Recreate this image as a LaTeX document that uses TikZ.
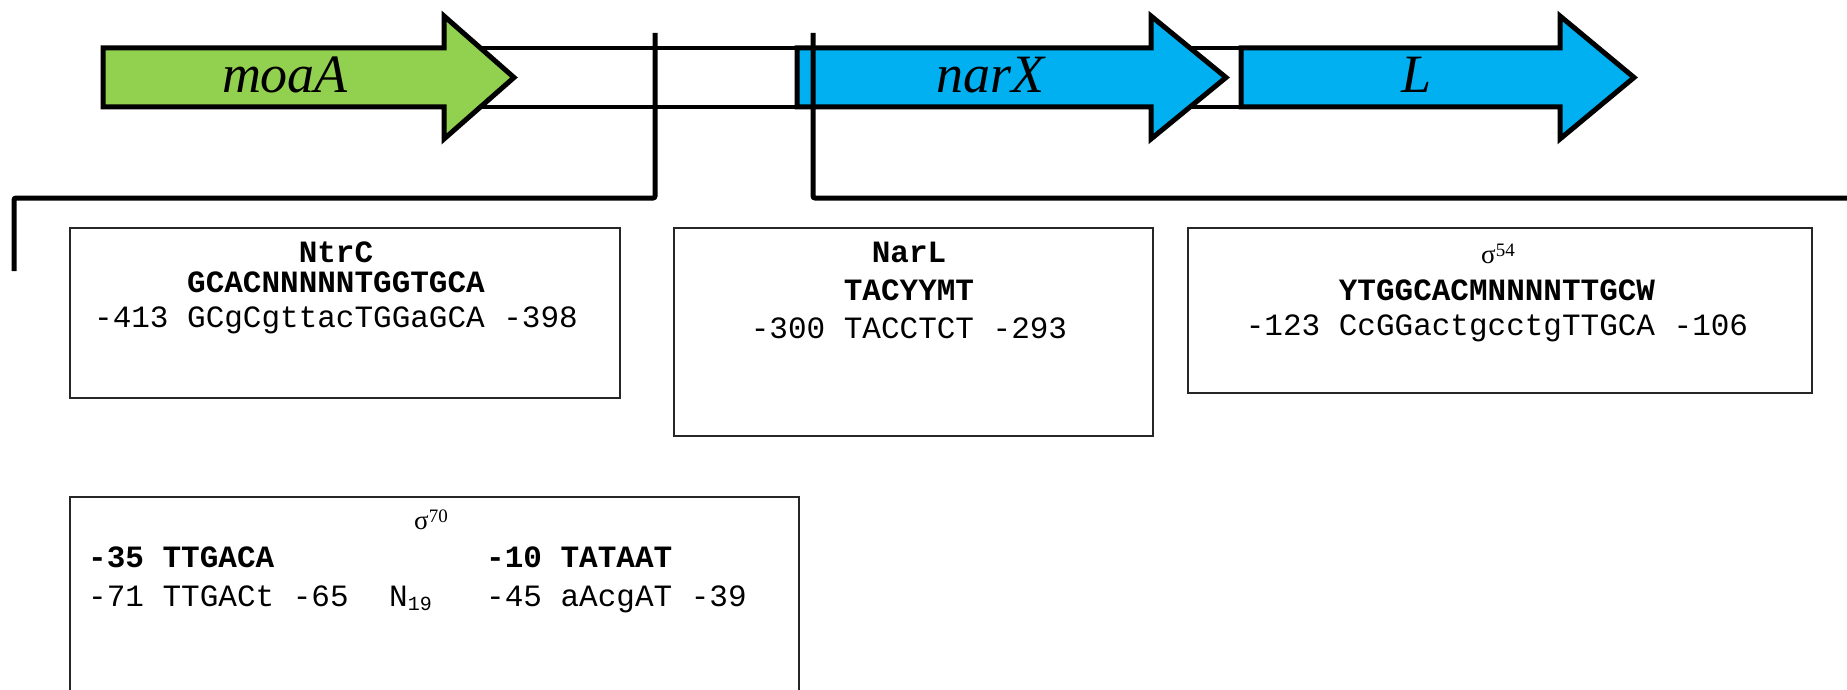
\documentclass[tikz,border=0pt]{standalone}
\usepackage{fontspec}
\setmainfont{Liberation Serif}
\setmonofont{Liberation Mono}
\definecolor{moagreen}{RGB}{146,208,80}
\definecolor{narblue}{RGB}{0,176,240}
\begin{document}
\begin{tikzpicture}[x=1pt,y=-1pt,
  gene/.style={draw=black, line width=5pt, line join=miter, miter limit=10},
  conn/.style={draw=black, line width=5pt, rounded corners=2pt},
  box/.style={draw=black!85, line width=2pt, anchor=north west, inner sep=0pt},
  mono/.style={font=\fontsize{31}{31}\selectfont\ttfamily, inner sep=0pt},
  monob/.style={font=\fontsize{31}{31}\selectfont\ttfamily\bfseries, inner sep=0pt},
  glabel/.style={font=\fontsize{54}{54}\selectfont\itshape, inner sep=0pt, anchor=base},
  sig/.style={font=\fontsize{27}{27}\selectfont, inner sep=0pt, anchor=base},
]
\clip (0,0) rectangle (1847,690);
\fill[white] (0,0) rectangle (1847,690);

% DNA backbone
\filldraw[draw=black, line width=4pt, fill=white] (460,48) rectangle (1245,107);

% genes
\filldraw[gene, fill=moagreen] (103,48) -- (444,48) -- (444,16) -- (514,77.5) -- (444,139) -- (444,107) -- (103,107) -- cycle;
\node[glabel] (moaA) at (285,93) {moaA};
\filldraw[gene, fill=narblue] (797,48) -- (1151,48) -- (1151,16) -- (1226,77.5) -- (1151,139) -- (1151,107) -- (797,107) -- cycle;
\node[glabel] (narX) at (990,93) {narX};
\filldraw[gene, fill=narblue] (1241,48) -- (1560,48) -- (1560,16) -- (1634,77.5) -- (1560,139) -- (1560,107) -- (1241,107) -- cycle;
\node[glabel] (L) at (1416,93) {L};

% connectors
\coordinate (c1top) at (655,33);
\coordinate (c1corner) at (655,198);
\coordinate (c1left) at (14,198);
\coordinate (c1end) at (14,271);
\draw[conn] (c1top) -- (c1corner) -- (c1left) -- (c1end);
\coordinate (c2top) at (813,33);
\coordinate (c2corner) at (813,198);
\coordinate (c2end) at (1860,198);
\draw[conn] (c2top) -- (c2corner) -- (c2end);

% NtrC box
\node[box, minimum width=550pt, minimum height=170pt] (ntrcbox) at (69,227) {};
\node[monob, anchor=base] (ntrc) at (336,262) {NtrC};
\node[monob, anchor=base] (ntrcc) at (336,292) {GCACNNNNNTGGTGCA};
\node[mono, anchor=base] (ntrcs) at (336,327) {-413 GCgCgttacTGGaGCA -398};

% NarL box
\node[box, minimum width=479pt, minimum height=208pt] (narlbox) at (673,227) {};
\node[monob, anchor=base] (narl) at (909,262) {NarL};
\node[monob, anchor=base] (narlc) at (909,300) {TACYYMT};
\node[mono, anchor=base] (narls) at (909,338) {-300 TACCTCT -293};

% sigma54 box
\node[box, minimum width=624pt, minimum height=165pt] (s54box) at (1187,227) {};
\node[sig] (s54) at (1498,263) {σ\raisebox{7pt}{\fontsize{19}{19}\selectfont 54}};
\node[monob, anchor=base] (s54c) at (1497,300) {YTGGCACMNNNNTTGCW};
\node[mono, anchor=base] (s54s) at (1497,335) {-123 CcGGactgcctgTTGCA -106};

% sigma70 box
\node[box, minimum width=729pt, minimum height=230pt] (s70box) at (69,496) {};
\node[sig] (s70) at (431,529) {σ\raisebox{7pt}{\fontsize{19}{19}\selectfont 70}};
\node[monob, anchor=base west] (m35) at (88,567) {-35 TTGACA};
\node[monob, anchor=base west] (m10) at (486,567) {-10 TATAAT};
\node[mono, anchor=base west] (s35) at (88,606) {-71 TTGACt -65};
\node[mono, anchor=base west] (n19) at (389,606) {N\raisebox{-4pt}{\fontsize{20}{20}\selectfont 19}};
\node[mono, anchor=base west] (s10) at (486,606) {-45 aAcgAT -39};
\end{tikzpicture}
\end{document}
